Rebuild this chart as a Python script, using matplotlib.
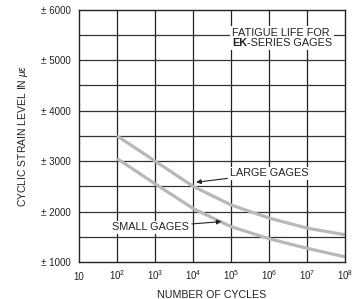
import matplotlib.pyplot as plt
from matplotlib.offsetbox import TextArea, HPacker, VPacker, AnnotationBbox

plt.rcParams['font.family'] = ['Liberation Sans', 'DejaVu Sans']
plt.rcParams['mathtext.fontset'] = 'custom'
plt.rcParams['mathtext.rm'] = 'Liberation Sans'
plt.rcParams['mathtext.it'] = 'Liberation Sans:italic'

# data
cycles = [1e2, 1e3, 1e4, 1e5, 1e6, 1e7, 1e8]
large_gages = [3500, 3000, 2500, 2130, 1870, 1670, 1540]
small_gages = [3050, 2550, 2060, 1700, 1460, 1270, 1100]

x_ticks = [1e1, 1e2, 1e3, 1e4, 1e5, 1e6, 1e7, 1e8]
x_labels = ['10'] + ['$10^{%d}$' % i for i in range(2, 9)]
y_ticks = [1000, 2000, 3000, 4000, 5000, 6000]
y_labels = ['\u00b1 %d' % v for v in y_ticks]

fig = plt.figure(figsize=(3.61, 2.99), dpi=100)
ax = fig.add_axes([0.219, 0.124, 0.737, 0.843])

ax.set_xscale('log')
ax.set_xlim(1e1, 1e8)
ax.set_ylim(1000, 6000)

# grid: every decade, every 500 microstrain
for xv in x_ticks[1:-1]:
    ax.axvline(xv, color='#222222', lw=0.9, zorder=1)
for yv in range(1500, 6000, 500):
    ax.axhline(yv, color='#333333', lw=0.9, zorder=1)

ax.plot(cycles, large_gages, color='#b8b8b8', lw=2.3, zorder=2,
        solid_capstyle='butt')
ax.plot(cycles, small_gages, color='#b8b8b8', lw=2.3, zorder=2,
        solid_capstyle='butt')

ax.set_xticks(x_ticks)
ax.set_xticklabels(x_labels)
ax.set_yticks(y_ticks)
ax.set_yticklabels(y_labels)
ax.minorticks_off()
ax.tick_params(length=0, labelsize=7, colors='#222222')
ax.tick_params(axis='y', pad=6)
ax.tick_params(axis='x', pad=13)
for lab in ax.get_xticklabels():
    lab.set_verticalalignment('baseline')
for s in ax.spines.values():
    s.set_color('#222222')
    s.set_linewidth(1.0)

ax.set_xlabel('NUMBER OF CYCLES', fontsize=7.7, labelpad=6, color='#222222')
ax.set_ylabel('CYCLIC STRAIN LEVEL IN $\\mu\\epsilon$', fontsize=7.5,
              labelpad=8, color='#222222')

# title block with bold "EK"
tp = dict(size=7.8, color='#222222')
line1 = TextArea('FATIGUE LIFE FOR', textprops=tp)
line2 = HPacker(children=[TextArea('EK', textprops=dict(tp, weight='bold')),
                          TextArea('-SERIES GAGES', textprops=tp)],
                align='baseline', pad=0, sep=0)
block = VPacker(children=[line1, line2], align='left', pad=0, sep=0)
ab = AnnotationBbox(block, (1.05e5, 5640), box_alignment=(0, 1),
                    frameon=True, pad=0.12, zorder=5,
                    bboxprops=dict(facecolor='white', edgecolor='none'))
ax.add_artist(ab)

arrow = dict(arrowstyle='-|>', color='#222222', lw=0.8, mutation_scale=7,
             shrinkA=1, shrinkB=0)
ax.annotate('LARGE GAGES', xy=(1.2e4, 2580), xytext=(9.5e4, 2760),
            fontsize=7.8, color='#222222', va='center', ha='left',
            arrowprops=arrow, zorder=5,
            bbox=dict(facecolor='white', edgecolor='none', pad=1))
ax.annotate('SMALL GAGES', xy=(5.6e4, 1800), xytext=(7.5e1, 1690),
            fontsize=7.8, color='#222222', va='center', ha='left',
            arrowprops=arrow, zorder=5,
            bbox=dict(facecolor='white', edgecolor='none', pad=1))

fig.savefig('out.png', dpi=100)
